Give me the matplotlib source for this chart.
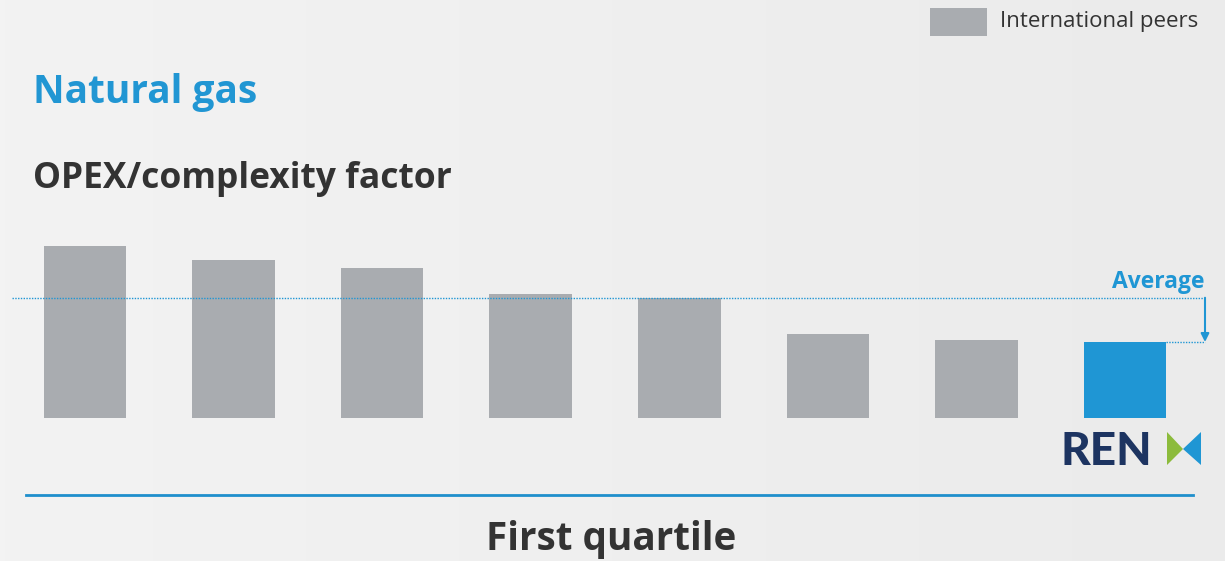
import numpy as np
import matplotlib.pyplot as plt
from matplotlib.patches import Polygon, Rectangle

plt.rcParams['font.family'] = ['Open Sans', 'DejaVu Sans']

# OPEX / complexity factor (relative units)
peers = ['Peer 1', 'Peer 2', 'Peer 3', 'Peer 4', 'Peer 5', 'Peer 6', 'Peer 7']
peer_vals = [172, 158, 150, 124, 120, 84, 78]
ren_val = 76
labels = peers + ['REN']
values = peer_vals + [ren_val]

grey = '#a9acb0'
blue = '#1f96d4'
navy = '#1d3461'
dark = '#333333'

W, H = 1225, 561
fig = plt.figure(figsize=(W / 100, H / 100), dpi=100)
fig.patch.set_facecolor('#eeefef')

# soft background shading, lighter on the left
bg = fig.add_axes([0, 0, 1, 1])
grad = np.linspace(0, 1, 256).reshape(1, -1)
bg.imshow(grad, aspect='auto', cmap=plt.matplotlib.colors.LinearSegmentedColormap.from_list(
    'bg', ['#f3f3f3', '#ebebeb']), extent=[0, 1, 0, 1])
bg.axis('off')

# chart area: bars baseline at y=418px, xlim chosen so centres sit where they should
ax = fig.add_axes([12 / W, (H - 418) / H, (1205 - 12) / W, 188 / H])
ax.patch.set_alpha(0)
x = np.arange(len(values))
cols = [grey] * len(peer_vals) + [blue]
ax.bar(x, values, width=0.555, color=cols, edgecolor='none')
ax.set_xlim(-0.491, 7.538)
ax.set_ylim(0, 188)
ax.axis('off')

avg = np.mean(values)
ax.plot([-0.491, 7.538], [avg, avg], ls=(0, (1, 1)), color=blue, lw=1, clip_on=False)
ax.plot([7 + 0.2775, 7.538], [ren_val, ren_val], ls=(0, (1, 1)), color=blue, lw=1, clip_on=False)
ax.annotate('', xy=(7.538, ren_val), xytext=(7.538, avg),
            arrowprops=dict(arrowstyle='-|>', color=blue, lw=1.5, mutation_scale=12,
                            shrinkA=0, shrinkB=0), annotation_clip=False)
ax.text(7.538, avg + 4, 'Average', color=blue, fontsize=16.5, fontweight='bold',
        ha='right', va='bottom')

# titles
fig.text(33 / W, 1 - 103 / H, 'Natural gas', color='#2196d3', fontsize=28,
         fontweight='bold', va='baseline', ha='left')
fig.text(33 / W, 1 - 188 / H, 'OPEX/complexity factor', color=dark, fontsize=25.5,
         fontweight='bold', va='baseline', ha='left')

# legend
fig.patches.append(Rectangle((930 / W, 1 - 36 / H), 57 / W, 28 / H, transform=fig.transFigure,
                             color=grey, lw=0))
fig.text(1000 / W, 1 - 22 / H, 'International peers', color=dark, fontsize=16,
         va='center', ha='left')

# REN logo
fig.text(1060 / W, 1 - 465 / H, 'REN', color=navy, fontsize=33, fontweight='black',
         family='Lato', va='baseline', ha='left')
fig.patches.append(Polygon([(1167 / W, 1 - 432 / H), (1167 / W, 1 - 465 / H), (1183 / W, 1 - 449 / H)],
                           closed=True, transform=fig.transFigure, color='#8cbb3c', lw=0))
fig.patches.append(Polygon([(1201 / W, 1 - 432 / H), (1201 / W, 1 - 465 / H), (1183 / W, 1 - 449 / H)],
                           closed=True, transform=fig.transFigure, color=blue, lw=0))

# bottom rule and caption
fig.add_artist(plt.Line2D([26 / W, 1193 / W], [1 - 495 / H, 1 - 495 / H], color='#1f8fcc', lw=2))
fig.text(611 / W, 1 - 550 / H, 'First quartile', color=dark, fontsize=27.8,
         fontweight='bold', va='baseline', ha='center')

fig.savefig('out.png', dpi=100, facecolor=fig.get_facecolor())
